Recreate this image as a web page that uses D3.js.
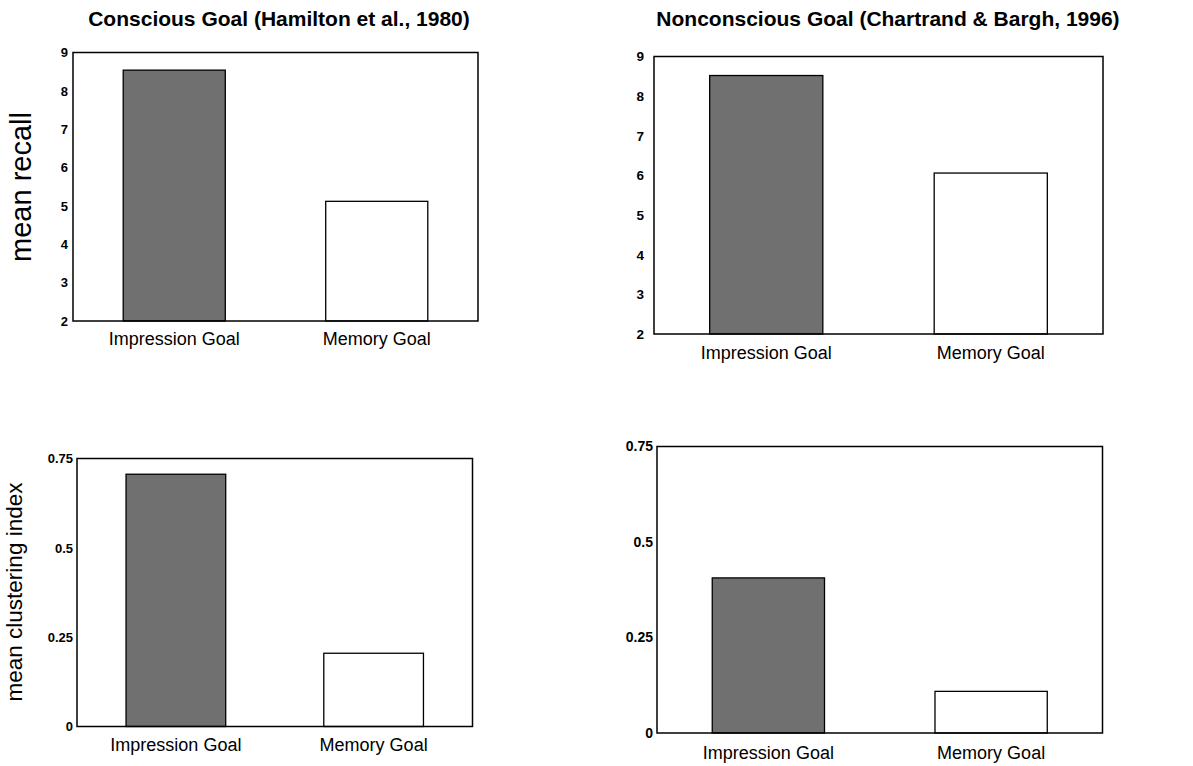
<!DOCTYPE html>
<html><head><meta charset="utf-8">
<script src="https://cdn.jsdelivr.net/npm/d3@7"></script>
<style>
html,body{margin:0;padding:0;background:#fff;}
svg{display:block;}
</style></head>
<body>
<script>
// ---- data ----
const categories = ["Impression Goal", "Memory Goal"];
const recallConscious = [8.54, 5.12];
const recallNonconscious = [8.52, 6.06];
const clusterConscious = [0.706, 0.205];
const clusterNonconscious = [0.406, 0.109];
const recallTicks = [2, 3, 4, 5, 6, 7, 8, 9];
const clusterTicks = [0, 0.25, 0.5, 0.75];
const clusterTickLabels = ["0", "0.25", "0.5", "0.75"];
const titles = ["Conscious Goal (Hamilton et al., 1980)", "Nonconscious Goal (Chartrand & Bargh, 1996)"];
const yLabels = ["mean recall", "mean clustering index"];
const barFills = ["#707070", "#ffffff"];

const W = 1193, H = 766;
const svg = d3.select("body").append("svg").attr("width", W).attr("height", H);
const FONT = "Liberation Sans, Arial, Helvetica, sans-serif";

const panels = [
  {vals: recallConscious, domain: [2, 9], ticks: recallTicks, fmt: d => String(d),
   box: {l: 73, r: 478, t: 52.5, b: 321}, title: titles[0], titleX: 279, titleY: 26,
   xlabY: 345, tickPad: 5, tickSize: 13, tickScaleY: 1},
  {vals: recallNonconscious, domain: [2, 9], ticks: recallTicks, fmt: d => String(d),
   box: {l: 654, r: 1103, t: 56.5, b: 334}, title: titles[1], titleX: 888, titleY: 26,
   xlabY: 359, tickPad: 10, tickSize: 13.5},
  {vals: clusterConscious, domain: [0, 0.75], ticks: clusterTicks, fmt: d => clusterTickLabels[clusterTicks.indexOf(d)],
   box: {l: 77, r: 472.5, t: 458.5, b: 726.5}, xlabY: 751, tickPad: 4, tickSize: 13},
  {vals: clusterNonconscious, domain: [0, 0.75], ticks: clusterTicks, fmt: d => clusterTickLabels[clusterTicks.indexOf(d)],
   box: {l: 657, r: 1102.5, t: 446.5, b: 733}, xlabY: 759, tickPad: 4, tickSize: 14}
];

panels.forEach((p, i) => {
  const b = p.box;
  const g = svg.append("g");
  const x = d3.scaleBand().domain(categories).range([b.l, b.r]).paddingInner(0.496).paddingOuter(0.248);
  const y = d3.scaleLinear().domain(p.domain).range([b.b, b.t]);

  // bars
  g.selectAll("rect.bar").data(categories).join("rect")
    .attr("class", "bar")
    .attr("x", d => x(d))
    .attr("width", x.bandwidth())
    .attr("y", (d, k) => y(p.vals[k]))
    .attr("height", (d, k) => y(p.domain[0]) - y(p.vals[k]))
    .attr("fill", (d, k) => barFills[k])
    .attr("stroke", "#000").attr("stroke-width", 1.3);

  // frame
  g.append("rect").attr("x", b.l).attr("y", b.t).attr("width", b.r - b.l).attr("height", b.b - b.t)
    .attr("fill", "none").attr("stroke", "#000").attr("stroke-width", 1.5);

  // y axis tick labels
  const ya = d3.axisLeft(y).tickValues(p.ticks).tickFormat(p.fmt).tickSize(0).tickPadding(p.tickPad);
  const yg = g.append("g").attr("transform", `translate(${b.l},0)`).call(ya);
  yg.select(".domain").remove();
  yg.selectAll("text").attr("font-family", FONT).attr("font-size", p.tickSize)
    .attr("font-weight", "bold").attr("fill", "#000");

  // x axis labels
  const xa = d3.axisBottom(x).tickSize(0).tickPadding(0);
  const xg = g.append("g").attr("transform", `translate(0,${p.xlabY})`).call(xa);
  xg.select(".domain").remove();
  xg.selectAll("text").attr("font-family", FONT).attr("font-size", 18).attr("dy", 0).attr("fill", "#000");

  if (p.title) {
    g.append("text").attr("x", p.titleX).attr("y", p.titleY).attr("text-anchor", "middle")
      .attr("font-family", FONT).attr("font-size", 21).attr("font-weight", "bold").text(p.title);
  }
});

// y axis titles
svg.append("text").attr("transform", "translate(31,187) rotate(-90)").attr("text-anchor", "middle")
  .attr("font-family", FONT).attr("font-size", 29).text(yLabels[0]);
svg.append("text").attr("transform", "translate(22,592) rotate(-90)").attr("text-anchor", "middle")
  .attr("font-family", FONT).attr("font-size", 22.5).text(yLabels[1]);
</script>
</body></html>
